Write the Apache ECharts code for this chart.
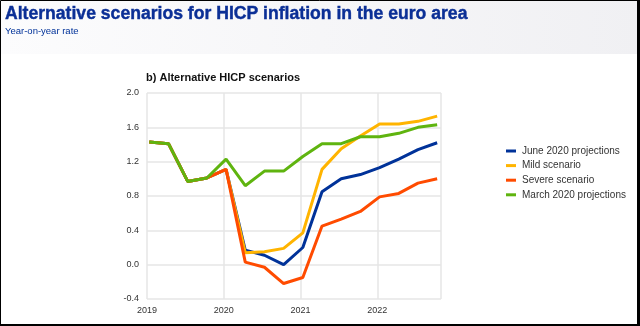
<!DOCTYPE html>
<html>
<head>
<meta charset="utf-8">
<script src="https://cdn.jsdelivr.net/npm/echarts@6/dist/echarts.min.js"></script>
<style>
  html, body { margin: 0; padding: 0; background: #fff; }
  #chart { width: 640px; height: 326px; }
</style>
</head>
<body>
<div id="chart"></div>
<script>
// Quarterly HICP paths, 2019 Q1 – 2022 Q4 (year-on-year %)
const quarters = [
  '2019Q1','2019Q2','2019Q3','2019Q4',
  '2020Q1','2020Q2','2020Q3','2020Q4',
  '2021Q1','2021Q2','2021Q3','2021Q4',
  '2022Q1','2022Q2','2022Q3','2022Q4'
];
const june2020  = [1.43, 1.41, 0.97, 1.01, 1.11, 0.17, 0.11, 0.00, 0.20, 0.85, 1.00, 1.05, 1.13, 1.23, 1.34, 1.42];
const mild      = [1.43, 1.41, 0.97, 1.01, 1.11, 0.14, 0.15, 0.19, 0.37, 1.11, 1.35, 1.50, 1.64, 1.64, 1.67, 1.73];
const severe    = [1.43, 1.41, 0.97, 1.01, 1.11, 0.03, -0.03, -0.22, -0.15, 0.45, 0.53, 0.62, 0.79, 0.83, 0.95, 1.00];
const march2020 = [1.43, 1.41, 0.97, 1.01, 1.23, 0.92, 1.09, 1.09, 1.26, 1.41, 1.41, 1.49, 1.49, 1.53, 1.60, 1.63];
const yearTicks = [2019, 2020, 2021, 2022];

// quarter label -> position on the decimal-year axis
function quarterPos(label) {
  const y = parseInt(label.slice(0, 4), 10);
  const q = parseInt(label.slice(5), 10);
  return y + (q - 1) / 4 + 0.03;
}
function pairs(values) {
  return quarters.map((q, i) => [quarterPos(q), values[i]]);
}

const seriesDefs = [
  { name: 'June 2020 projections', color: '#003299', data: june2020 },
  { name: 'Mild scenario',         color: '#ffb400', data: mild },
  { name: 'Severe scenario',       color: '#ff4b00', data: severe },
  { name: 'March 2020 projections',color: '#5fb40f', data: march2020 }
];

const chart = echarts.init(document.getElementById('chart'), null, { renderer: 'canvas' });

chart.setOption({
  animation: false,
  backgroundColor: '#ffffff',
  textStyle: { fontFamily: 'Liberation Sans, Arial, sans-serif' },
  graphic: [
    {
      type: 'rect', z: -10, silent: true,
      shape: { x: 0, y: 0, width: 640, height: 54 },
      style: {
        fill: new echarts.graphic.LinearGradient(0, 0, 1, 0, [
          { offset: 0, color: '#fcfcfd' },
          { offset: 1, color: '#f0f0f3' }
        ])
      }
    },
    {
      type: 'rect', z: 100, silent: true,
      shape: { x: 0.5, y: 0.5, width: 637.5, height: 324 },
      style: { fill: null, stroke: '#000', lineWidth: 1 }
    },
    { type: 'rect', z: 100, silent: true, shape: { x: 637, y: 0, width: 3, height: 326 }, style: { fill: '#000' } },
    { type: 'rect', z: 100, silent: true, shape: { x: 0, y: 324, width: 640, height: 2 }, style: { fill: '#000' } }
  ],
  title: [
    {
      text: 'Alternative scenarios for HICP inflation in the euro area',
      left: 5, top: 5, padding: 0,
      textStyle: {
        color: '#0b2f96', fontSize: 17.6, fontWeight: 'bold',
        fontFamily: 'Liberation Sans, Arial, sans-serif',
        textBorderColor: '#0b2f96', textBorderWidth: 0.4
      }
    },
    {
      text: 'Year-on-year rate',
      left: 5, top: 26, padding: 0,
      textStyle: { color: '#003299', fontSize: 9.5, fontWeight: 'normal', fontFamily: 'Liberation Sans, Arial, sans-serif' }
    },
    {
      text: 'b) Alternative HICP scenarios',
      left: 146, top: 72, padding: 0,
      textStyle: { color: '#111', fontSize: 11, fontWeight: 'bold', fontFamily: 'Liberation Sans, Arial, sans-serif' }
    }
  ],
  legend: {
    orient: 'vertical',
    left: 501, top: 141,
    itemWidth: 10, itemHeight: 3, itemGap: 4.6,
    icon: 'rect',
    textStyle: { color: '#333', fontSize: 10, padding: [0, 0, 0, 1] },
    data: seriesDefs.map(s => s.name)
  },
  grid: { left: 147, right: 199, top: 93, bottom: 27, containLabel: false },
  xAxis: {
    type: 'value',
    min: yearTicks[0], max: 2022.83, interval: 1,
    axisLine: { show: false },
    axisTick: { show: false },
    axisLabel: {
      color: '#333', fontSize: 9, margin: 7, showMaxLabel: false,
      formatter: v => (yearTicks.indexOf(Math.round(v)) >= 0 && Math.abs(v - Math.round(v)) < 1e-6) ? String(Math.round(v)) : ''
    },
    splitLine: { show: true, lineStyle: { color: '#e6e6e6', width: 1.5 } }
  },
  yAxis: {
    type: 'value',
    min: -0.4, max: 2.0, interval: 0.4,
    axisLine: { show: false },
    axisTick: { show: false },
    axisLabel: { color: '#333', fontSize: 9, margin: 8, formatter: v => v.toFixed(1) },
    splitLine: { show: true, lineStyle: { color: '#e6e6e6', width: 1.5 } }
  },
  series: seriesDefs.map((s, i) => ({
    name: s.name,
    type: 'line',
    data: pairs(s.data),
    symbol: 'none',
    z: 2 + i,
    color: s.color,
    lineStyle: { color: s.color, width: 3 }
  }))
});
</script>
</body>
</html>
